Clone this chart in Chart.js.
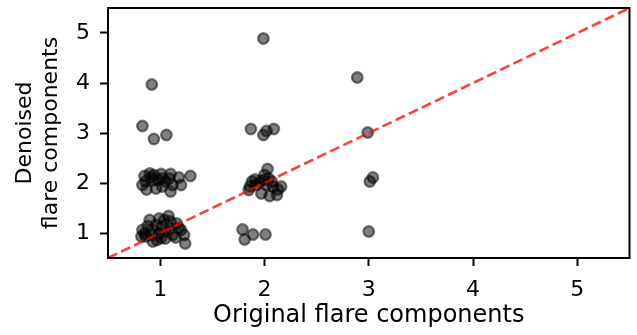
<!DOCTYPE html>
<html>
<head>
<meta charset="utf-8">
<script src="https://cdn.jsdelivr.net/npm/chart.js@4/dist/chart.umd.min.js"></script>
<style>
html,body{margin:0;padding:0;background:#fff;}
canvas{display:block;}
</style>
</head>
<body>
<canvas id="c" width="637" height="335"></canvas>
<script>
// Data (jittered integer component counts)
const origX = [
  // x~1, y~1 cluster
  1.08,0.99,0.90,1.16,0.83,0.86,0.93,1.05,1.15,1.23,1.24,1.20,1.10,1.02,0.96,0.93,0.99,1.05,0.88,0.82,0.97,1.12,1.01,0.92,1.10,1.04,1.18,0.85,
  // x~1, y~2 cluster
  0.85,0.90,0.94,1.01,1.10,1.18,1.29,1.20,1.10,0.87,0.96,1.02,0.86,0.93,0.98,1.05,1.09,1.02,0.91,1.12,0.83,
  // x~1, y~3 / y~4
  0.83,0.94,1.06,0.92,
  // x~2, y~1
  1.79,1.81,1.89,2.01,
  // x~2, y~2 cluster
  2.03,2.16,2.12,2.05,1.97,1.85,1.88,1.91,1.96,1.99,2.04,2.07,2.08,2.02,1.92,1.86,2.00,2.13,
  // x~2, y~3 / y~5
  1.87,1.99,2.02,2.09,1.99,
  // x~3
  2.89,2.99,3.01,3.04,3.00
];
const denoisedY = [
  1.34,1.29,1.26,1.19,1.06,0.93,0.83,0.89,0.91,0.96,0.79,1.06,1.09,1.13,1.16,1.06,0.99,1.03,1.14,0.93,0.86,0.96,0.90,0.96,1.23,1.26,1.10,0.99,
  2.14,2.19,2.16,2.18,2.18,2.11,2.14,1.96,1.83,1.87,1.89,1.93,2.03,2.05,2.06,2.03,2.09,2.09,2.11,1.96,1.96,
  3.14,2.88,2.96,3.97,
  1.07,0.87,0.97,0.97,
  2.28,1.93,1.76,1.74,1.79,1.86,2.03,2.07,2.03,2.06,2.09,2.03,1.93,1.96,1.96,1.93,2.16,1.87,
  3.08,2.96,3.04,3.08,4.89,
  4.11,3.01,2.03,2.11,1.03
];
const identityLine = [0.5, 5.5];
const tickValues = [1, 2, 3, 4, 5];
const xTitle = 'Original flare components';
const yTitle = ['Denoised', 'flare components'];

const points = origX.map((x, i) => ({x: x, y: denoisedY[i]}));
const diag = identityLine.map(v => ({x: v, y: v}));

const frame = {
  id: 'frame',
  afterDraw(chart) {
    const {ctx, chartArea: a} = chart;
    ctx.save();
    ctx.strokeStyle = '#000';
    ctx.lineWidth = 2;
    ctx.strokeRect(a.left, a.top, a.right - a.left, a.bottom - a.top);
    ctx.restore();
  }
};

const fam = "'DejaVu Sans', sans-serif";
const tickFont = {family: fam, size: 22};
const gridOpts = {drawOnChartArea: false, drawTicks: true, tickLength: 8, tickWidth: 2, tickColor: '#000', color: '#000'};

new Chart(document.getElementById('c'), {
  type: 'scatter',
  data: {
    datasets: [
      {
        type: 'line',
        data: diag,
        borderColor: 'rgba(255,0,0,0.75)',
        borderWidth: 2.6,
        borderDash: [10, 4.5],
        pointRadius: 0,
        fill: false,
        order: 0
      },
      {
        data: points,
        backgroundColor: 'rgba(0,0,0,0.5)',
        borderColor: 'rgba(0,0,0,0.5)',
        borderWidth: 2.2,
        pointRadius: 5.3,
        order: 1
      }
    ]
  },
  options: {
    responsive: false,
    animation: false,
    events: [],
    layout: {padding: {top: 8, right: 1, left: 0, bottom: 0}},
    plugins: {legend: {display: false}, tooltip: {enabled: false}},
    scales: {
      x: {
        type: 'linear', min: 0.5, max: 5.5,
        afterFit(s) { s.height = 77; s.paddingLeft = 0; s.paddingRight = 0; },
        afterBuildTicks(s) { s.ticks = tickValues.map(v => ({value: v})); },
        grid: gridOpts,
        border: {display: false},
        ticks: {color: '#000', font: tickFont, padding: 11, maxRotation: 0},
        title: {display: true, text: xTitle, color: '#000', font: {family: fam, size: 24}, padding: {top: 0, bottom: 5}}
      },
      y: {
        type: 'linear', min: 0.5, max: 5.5,
        afterFit(s) { s.width = 108; s.paddingTop = 0; s.paddingBottom = 0; },
        afterBuildTicks(s) { s.ticks = tickValues.map(v => ({value: v})); },
        grid: gridOpts,
        border: {display: false},
        ticks: {color: '#000', font: tickFont, padding: 10},
        title: {display: true, text: yTitle, color: '#000', font: {family: fam, size: 22}, padding: {top: 12, bottom: 0}}
      }
    }
  },
  plugins: [frame]
});
</script>
</body>
</html>
